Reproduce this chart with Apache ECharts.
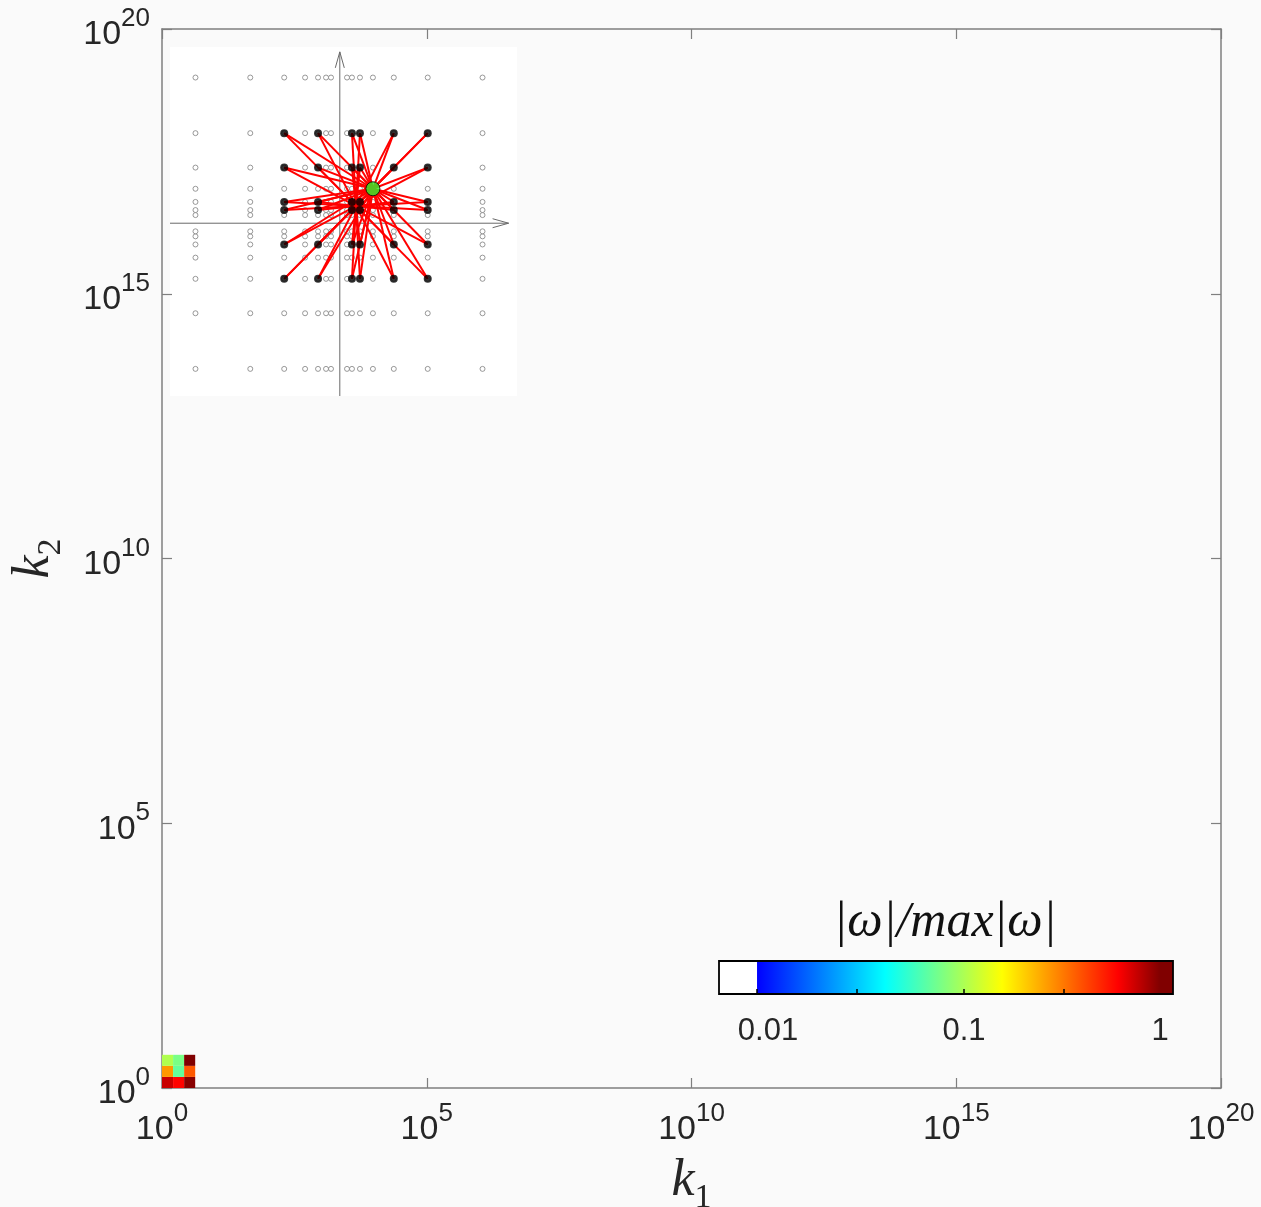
<!DOCTYPE html>
<html>
<head>
<meta charset="utf-8">
<script src="https://cdn.jsdelivr.net/npm/echarts@6/dist/echarts.min.js"></script>
<style>
  html, body { margin: 0; padding: 0; background: #fafafa; }
  #chart { width: 1261px; height: 1207px; }
</style>
</head>
<body>
<div id="chart"></div>
<script>
// ---- main log-log axes ----
const k1Ticks = [1, 1e5, 1e10, 1e15, 1e20];
const k2Ticks = [1, 1e5, 1e10, 1e15, 1e20];

// shell edges of the resolved modes (k = phi^n)
const shellEdges = [1, 1.618, 2.618, 4.236];
// |omega| / max|omega|, rows from the lowest k2 shell upward, columns along k1
const omegaRow1 = [0.755, 0.60, 0.97];
const omegaRow2 = [0.27, 0.068, 0.38];
const omegaRow3 = [0.102, 0.076, 1.0];

// ---- colour bar (log10 of |omega|/max|omega|) ----
const cbRange = [-2.25, 0.066];
const cbJetStart = -2.056;
const cbLabelLog = [-2, -1, 0];
const cbTickLabels = ['0.01', '0.1', '1'];
const cbTickLog = [-2.056, -1.546, -1.0, -0.49];
// jet colour map stops (log10 value -> colour)
const jetLog = [-2.056, -1.403, -1.105, -0.806, -0.214, 0];
const jetColors = ['#0000ff', '#00ffff', '#80ff80', '#ffff00', '#ff0000', '#800000'];

// ---- inset: golden-ratio log lattice ----
const latticeK = [-17.94, -11.09, -6.85, -4.24, -2.62, -1.62, -1, 1, 1.62, 2.62, 4.24, 6.85, 11.09, 17.94];
const targetK = [4.24, 4.24];
// component pairs (p, q) with p + q = k along each direction
const partnerPairs = [[2.62, 1.62], [6.85, -2.62], [11.09, -6.85]];
// inset coordinate frame and its two arrows
const insetX = [-21.125, 22.25];
const insetY = [-21.28, 21.7];
const insetArrows = [[-21.125, 0, 21.2, 0], [0.1, -21.28, 0.1, 21.1]];

function hexToRgb(h) {
  return [parseInt(h.slice(1, 3), 16), parseInt(h.slice(3, 5), 16), parseInt(h.slice(5, 7), 16)];
}
function colorOf(v) {
  const lv = Math.log10(v);
  if (lv < cbJetStart) return '#ffffff';
  if (lv >= jetLog[jetLog.length - 1]) return jetColors[jetColors.length - 1];
  for (let i = 0; i < jetLog.length - 1; i++) {
    if (lv <= jetLog[i + 1]) {
      const t = (lv - jetLog[i]) / (jetLog[i + 1] - jetLog[i]);
      const a = hexToRgb(jetColors[i]), b = hexToRgb(jetColors[i + 1]);
      const c = a.map((x, j) => Math.round(x + (b[j] - x) * t));
      return 'rgb(' + c.join(',') + ')';
    }
  }
  return jetColors[0];
}

// heatmap cells
const cells = [];
[omegaRow1, omegaRow2, omegaRow3].forEach((row, j) => {
  row.forEach((v, i) => cells.push([shellEdges[i], shellEdges[i + 1], shellEdges[j], shellEdges[j + 1], v]));
});

// lattice nodes
const latticeNodes = [];
latticeK.forEach(x => latticeK.forEach(y => latticeNodes.push([x, y])));

// triads p + q = k: edges p-k, q-k, p-q
const triadLines = [];
const activeNodes = [];
partnerPairs.forEach(([ax, bx]) => {
  partnerPairs.forEach(([ay, by]) => {
    [[[ax, ay], [bx, by]], [[ax, by], [bx, ay]]].forEach(([p, q]) => {
      triadLines.push({ coords: [p, targetK] }, { coords: [q, targetK] }, { coords: [p, q] });
      activeNodes.push(p, q);
    });
  });
});

const tickFont = 'Liberation Sans, Arial, Helvetica, sans-serif';
const textDark = '#262626';
const frameColor = '#7f7f7f';
const expRich = {
  b: { fontFamily: tickFont, fontSize: 34, lineHeight: 46, verticalAlign: 'bottom', color: textDark },
  s: { fontFamily: tickFont, fontSize: 26, lineHeight: 26, verticalAlign: 'top', color: textDark }
};
const expLabel = v => '{b|10}{s|' + Math.round(Math.log10(v)) + '}';
const nameRich = {
  k: { fontFamily: 'Liberation Serif, serif', fontStyle: 'italic', fontSize: 52, lineHeight: 60, verticalAlign: 'top', color: textDark },
  s: { fontFamily: 'Liberation Serif, serif', fontSize: 34, lineHeight: 34, verticalAlign: 'bottom', color: textDark }
};

function mainAxis(pos, ticks, withLabels, extra) {
  return Object.assign({
    gridIndex: 0,
    type: 'log',
    logBase: 10,
    min: 1,
    max: 1e20,
    position: pos,
    axisLine: { show: true, onZero: false, lineStyle: { color: frameColor, width: 1.5 } },
    axisTick: { show: true, inside: true, length: 10, customValues: ticks, lineStyle: { color: frameColor, width: 1.2 } },
    axisLabel: withLabels ? { show: true, customValues: ticks, formatter: expLabel, rich: expRich } : { show: false },
    splitLine: { show: false },
    minorTick: { show: false },
    minorSplitLine: { show: false }
  }, extra || {});
}

const chart = echarts.init(document.getElementById('chart'), null, { renderer: 'canvas' });

chart.setOption({
  backgroundColor: '#fafafa',
  animation: false,
  title: {
    text: '|ω|/max|ω|',
    left: 945,
    top: 897,
    textAlign: 'center',
    padding: 0,
    textStyle: { fontFamily: 'Liberation Serif, Times New Roman, serif', fontStyle: 'italic', fontWeight: 'normal', fontSize: 50, color: '#111', lineHeight: 52 }
  },
  grid: [
    { left: 162, top: 29, width: 1059, height: 1059, containLabel: false, outerBoundsMode: 'none' },
    { left: 170, top: 47, width: 347, height: 349, show: true, backgroundColor: '#ffffff', borderWidth: 0, outerBoundsMode: 'none' },
    { left: 719, top: 961, width: 454, height: 33, outerBoundsMode: 'none' }
  ],
  xAxis: [
    mainAxis('bottom', k1Ticks, true, {
      axisLabel: { show: true, customValues: k1Ticks, formatter: expLabel, rich: expRich, margin: 13 },
      name: '{k|k}{s|1}',
      nameLocation: 'middle',
      nameGap: 67,
      nameMoveOverlap: false,
      nameTextStyle: { rich: nameRich }
    }),
    mainAxis('top', k1Ticks, false),
    {
      gridIndex: 1, type: 'value', min: insetX[0], max: insetX[1], show: false
    },
    {
      gridIndex: 2, type: 'value', min: cbRange[0], max: cbRange[1], position: 'bottom', z: 10,
      axisLine: { show: false },
      axisTick: { show: true, inside: true, length: 5, customValues: cbTickLog, lineStyle: { color: '#000', width: 1.5 } },
      axisLabel: {
        show: true, customValues: cbLabelLog, margin: 22,
        formatter: v => cbTickLabels[cbLabelLog.indexOf(v)],
        fontFamily: tickFont, fontSize: 31, color: textDark
      },
      splitLine: { show: false }
    }
  ],
  yAxis: [
    mainAxis('left', k2Ticks, true, {
      axisLabel: { show: true, customValues: k2Ticks, formatter: expLabel, rich: expRich, margin: 12, align: 'right' },
      name: '{k|k}{s|2}',
      nameLocation: 'middle',
      nameRotate: 90,
      nameGap: 94,
      nameMoveOverlap: false,
      nameTextStyle: { rich: nameRich }
    }),
    mainAxis('right', k2Ticks, false),
    { gridIndex: 1, type: 'value', min: insetY[0], max: insetY[1], show: false },
    { gridIndex: 2, type: 'value', min: 0, max: 1, show: false }
  ],
  series: [
    {
      // resolved shells coloured by |omega|/max|omega|
      type: 'custom',
      xAxisIndex: 0, yAxisIndex: 0,
      data: cells,
      encode: { x: [0, 1], y: [2, 3] },
      renderItem(params, api) {
        const p0 = api.coord([api.value(0), api.value(2)]);
        const p1 = api.coord([api.value(1), api.value(3)]);
        return {
          type: 'rect',
          shape: { x: p0[0], y: p1[1], width: p1[0] - p0[0], height: p0[1] - p1[1] },
          style: { fill: colorOf(api.value(4)) }
        };
      }
    },
    {
      // colour bar
      type: 'custom',
      xAxisIndex: 3, yAxisIndex: 3,
      data: [[cbRange[0], cbJetStart, cbRange[1]]],
      encode: { x: [0, 1, 2] },
      z: 2,
      renderItem(params, api) {
        const a = api.coord([api.value(0), 0]);
        const b = api.coord([api.value(1), 1]);
        const c = api.coord([api.value(2), 0]);
        const span = api.value(2) - api.value(1);
        const stops = jetLog.map((l, i) => ({ offset: (l - api.value(1)) / span, color: jetColors[i] }));
        stops.push({ offset: 1, color: jetColors[jetColors.length - 1] });
        return {
          type: 'group',
          children: [
            { type: 'rect', shape: { x: a[0], y: b[1], width: b[0] - a[0], height: a[1] - b[1] }, style: { fill: '#ffffff' } },
            { type: 'rect', shape: { x: b[0], y: b[1], width: c[0] - b[0], height: a[1] - b[1] },
              style: { fill: new echarts.graphic.LinearGradient(0, 0, 1, 0, stops) } },
            { type: 'rect', shape: { x: a[0], y: b[1], width: c[0] - a[0], height: a[1] - b[1] },
              style: { fill: null, stroke: '#000', lineWidth: 1.8 } }
          ]
        };
      }
    },
    {
      // inset coordinate arrows
      type: 'custom',
      xAxisIndex: 2, yAxisIndex: 2,
      data: insetArrows,
      encode: { x: [0, 2], y: [1, 3] },
      z: 3,
      silent: true,
      renderItem(params, api) {
        const s = api.coord([api.value(0), api.value(1)]);
        const e = api.coord([api.value(2), api.value(3)]);
        const dx = e[0] - s[0], dy = e[1] - s[1];
        const len = Math.hypot(dx, dy);
        const ux = dx / len, uy = dy / len;
        const back = 16, half = 4.5;
        const l = [e[0] - ux * back - uy * half, e[1] - uy * back + ux * half];
        const r = [e[0] - ux * back + uy * half, e[1] - uy * back - ux * half];
        return {
          type: 'group',
          children: [
            { type: 'line', shape: { x1: s[0], y1: s[1], x2: e[0], y2: e[1] }, style: { stroke: '#6a6a6a', lineWidth: 1 } },
            { type: 'polyline', shape: { points: [l, e, r] }, style: { stroke: '#6a6a6a', fill: null, lineWidth: 1 } }
          ]
        };
      }
    },
    {
      // lattice nodes
      type: 'scatter',
      xAxisIndex: 2, yAxisIndex: 2,
      data: latticeNodes,
      symbol: 'circle',
      symbolSize: 5,
      z: 4,
      silent: true,
      itemStyle: { color: '#ffffff', borderColor: '#808080', borderWidth: 1 }
    },
    {
      // triad edges
      type: 'lines',
      coordinateSystem: 'cartesian2d',
      xAxisIndex: 2, yAxisIndex: 2,
      data: triadLines,
      z: 5,
      silent: true,
      lineStyle: { color: '#ff0000', width: 2, opacity: 1 }
    },
    {
      // modes interacting with k
      type: 'scatter',
      xAxisIndex: 2, yAxisIndex: 2,
      data: activeNodes,
      symbol: 'circle',
      symbolSize: 8,
      z: 6,
      silent: true,
      itemStyle: { color: '#000000' }
    },
    {
      // target mode k
      type: 'scatter',
      xAxisIndex: 2, yAxisIndex: 2,
      data: [targetK],
      symbol: 'circle',
      symbolSize: 14,
      z: 7,
      silent: true,
      itemStyle: { color: '#2bf52b', borderColor: '#000', borderWidth: 1 }
    }
  ]
});
</script>
</body>
</html>
